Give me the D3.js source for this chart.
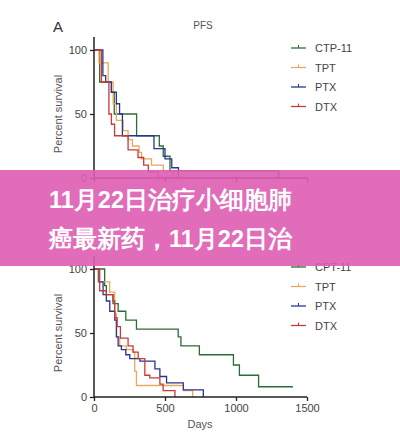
<!DOCTYPE html><html><head><meta charset="utf-8"><script src="https://cdn.jsdelivr.net/npm/d3@7"></script>
<style>body{margin:0;background:#fff}text{font-family:"Liberation Sans",Arial,sans-serif}</style></head><body>
<script>
const series=["CTP-11","TPT","PTX","DTX"];
const seriesB=["CPT-11","TPT","PTX","DTX"];
const colors=["#2e6b35","#e8a860","#2a3590","#c83a3a"];
const pfs=[
 [[0,100],[16,75],[49,67],[57,50],[120,33],[184,25],[195,17],[214,5.5],[520,0]],
 [[0,100],[14,90],[40,75],[54,58],[63,45],[82,37],[96,30],[108,25],[127,20],[134,15],[162,10],[195,5],[223,0]],
 [[0,100],[25,80],[33,75],[49,67],[63,58],[72,50],[80,33],[169,23],[200,15],[219,8],[238,0]],
 [[0,100],[21,75],[42,50],[49,42],[58,33],[96,22],[124,16],[140,10],[153,5],[181,0]]];
const os=[
 [[0,100],[75,87],[87,80],[134,73],[170,67],[224,60],[299,53],[593,47],[612,40],[742,33],[982,25],[1024,17],[1159,8],[1401,8]],
 [[0,100],[28,90],[110,82],[146,65],[158,47],[181,40],[228,37],[275,35],[287,20],[299,9],[630,5],[695,0]],
 [[0,100],[35,90],[64,80],[87,75],[111,67],[146,60],[158,47],[170,40],[193,37],[224,33],[252,30],[323,28],[429,22],[464,16],[511,11],[629,5.5],[770,0]],
 [[0,100],[40,83],[87,80],[134,75],[146,62],[163,55],[186,46],[240,40],[275,35],[311,30],[358,17],[393,15],[464,10],[487,5],[570,0]]];
const topTicks=[0,200,400,600], botTicks=[0,500,1000,1500], yTicks=[0,50,100];
const svg=d3.select("body").append("svg").attr("width",400).attr("height",438);
function panel(data,xdom,xt,y0,y100,names,legY,xlabel,showX){
 const x=d3.scaleLinear().domain(xdom).range([94,307]);
 const y=d3.scaleLinear().domain([0,100]).range([y0,y100]);
 const g=svg.append("g");
 const line=d3.line().x(d=>x(d[0])).y(d=>y(d[1])).curve(d3.curveStepAfter);
 data.forEach((s,i)=>g.append("path").attr("d",line(s)).attr("fill","none").attr("stroke",colors[i]).attr("stroke-width",1.3));
 const ax=g.append("g").attr("transform",`translate(0,${y0})`).call(d3.axisBottom(x).tickValues(xt).tickFormat(showX?d3.format("d"):"").tickSize(4).tickSizeOuter(0));
 const ay=g.append("g").attr("transform",`translate(94,0)`).call(d3.axisLeft(y).tickValues(yTicks).tickSize(4).tickSizeOuter(0));
 [ax,ay].forEach(a=>{a.select(".domain").attr("stroke","#222").attr("stroke-width",1.5);a.selectAll("line").attr("stroke","#222").attr("stroke-width",1.3);a.selectAll("text").attr("font-size",11).attr("fill","#444");});
 ay.select(".domain").attr("d",`M0,${y100-13}V${y0}`);
 ax.select(".domain").attr("d",`M94,0H307`);
 g.append("text").attr("transform",`translate(62,${(y0+y100)/2}) rotate(-90)`).attr("text-anchor","middle").attr("font-size",11).attr("fill","#555").text("Percent survival");
 if(showX) g.append("text").attr("x",200).attr("y",y0+31).attr("text-anchor","middle").attr("font-size",11).attr("fill","#555").text(xlabel);
 names.forEach((n,i)=>{const yy=legY+i*19.5;
  g.append("line").attr("x1",291).attr("x2",306).attr("y1",yy).attr("y2",yy).attr("stroke",colors[i]).attr("stroke-width",1.3);
  g.append("line").attr("x1",298.5).attr("x2",298.5).attr("y1",yy-3).attr("y2",yy).attr("stroke",colors[i]);
  g.append("text").attr("x",315).attr("y",yy+4).attr("font-size",11).attr("fill","#444").text(n);});
}
svg.append("text").attr("x",53).attr("y",32).attr("font-size",15).attr("fill","#333").text("A");
svg.append("text").attr("x",203).attr("y",29).attr("text-anchor","middle").attr("font-size",10).attr("fill","#555").text("PFS");
panel(pfs,[0,600],topTicks,178,50,series,48,"Days",false);
panel(os,[0,1500],botTicks,397,269,seriesB,267,"Days",true);
svg.append("rect").attr("x",0).attr("y",170).attr("width",400).attr("height",96).attr("fill","rgb(222,92,178)").attr("opacity",0.9);
["11月22日治疗小细胞肺","癌最新药，11月22日治"].forEach((t,i)=>svg.append("text").attr("x",49).attr("y",208+i*39).attr("font-family","Noto Sans CJK SC").attr("font-weight","bold").attr("font-size",23.5).attr("fill","#fff").text(t));
</script></body></html>
